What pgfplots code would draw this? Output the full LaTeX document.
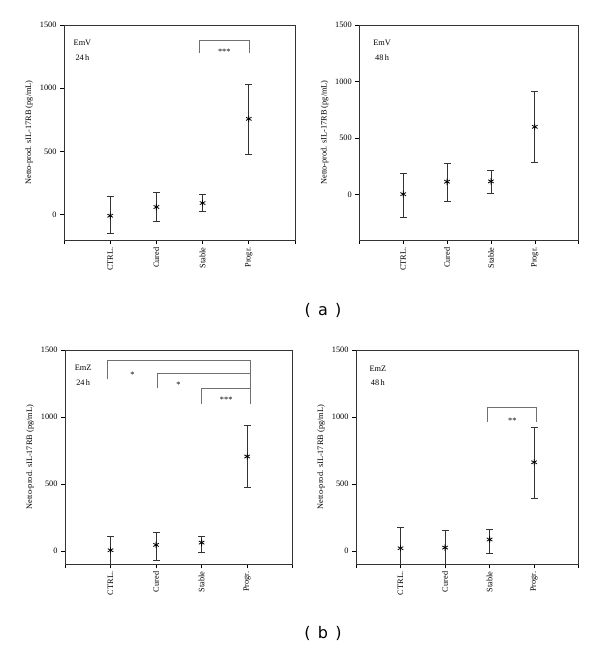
\documentclass[border=0pt]{standalone}
\usepackage{pgfplots}
\pgfplotsset{compat=1.18}
\usepackage{fontspec}
\setmainfont{Liberation Serif}
\newfontfamily\labfont{DejaVu Sans}
\definecolor{brgray}{HTML}{707070}
\definecolor{ebgray}{HTML}{333333}
\tikzset{
  bracket/.style={draw=brgray, line width=0.8pt},
  txt/.style={font=\fontsize{8.3}{9}\selectfont, inner sep=0pt},
}
\pgfplotsset{
  panel/.style={
    scale only axis,
    clip mode=individual,
    anchor=south west,
    xmin=0, xmax=5,
    ymax=1500,
    axis line style={draw=black!80, line width=0.7pt},
    xtick pos=left, ytick pos=left,
    xtick={0,1,2,3,4,5},
    xticklabels={,CTRL.,Cured,Stable,Progr.,},
    ytick={0,500,1000,1500},
    tick align=outside,
    major tick length=4pt,
    tick style={black, line width=0.6pt},
    /pgf/number format/assume math mode=true,
    /pgf/number format/1000 sep={},
    tick label style={font=\fontsize{8.3}{9}\selectfont},
    xticklabel style={rotate=90, anchor=east},
    ylabel={Netto-prod. sIL-17RB (pg/mL)},
    ylabel style={font=\fontsize{8.3}{9}\selectfont},
  },
  pt/.style={
    only marks, mark=asterisk, mark size=3.2pt, color=black, line width=0.8pt,
    /pgfplots/error bars/y dir=both,
    /pgfplots/error bars/y explicit,
    /pgfplots/error bars/error bar style={ebgray, line width=0.7pt},
    /pgfplots/error bars/error mark options={rotate=90, mark size=3.5pt, ebgray, line width=0.7pt},
  },
}
\begin{document}
\begin{tikzpicture}
\path[use as bounding box] (0,0) rectangle (600pt,649pt);

% (a) left: EmV 24 h
\begin{axis}[panel, name=p1, at={(64pt,409pt)}, width=231pt, height=215pt, ymin=-200]
\addplot[pt] table[x=x, y=y, y error plus=ep, y error minus=em] {
x y ep em
1 -8 153 140
2 61 118 114
3 92 71 63
4 758 271 279
};
\draw[bracket] (axis cs:2.93,1277) |- (axis cs:4.01,1377) -- (axis cs:4.01,1277);
\node[txt] at (axis cs:3.47,1290) {***};
\node[txt] at (axis cs:0.4,1356) {EmV};
\node[txt] at (axis cs:0.4,1246) {24\,h};
\end{axis}

% (a) right: EmV 48 h
\begin{axis}[panel, name=p2, at={(359.3pt,409pt)}, width=219.4pt, height=215pt, ymin=-400]
\addplot[pt] table[x=x, y=y, y error plus=ep, y error minus=em] {
x y ep em
1 5 186 202
2 115 165 177
3 118 100 103
4 600 315 312
};
\node[txt] at (axis cs:0.52,1338) {EmV};
\node[txt] at (axis cs:0.52,1215) {48\,h};
\end{axis}

% (b) left: EmZ 24 h
\begin{axis}[panel, name=p3, at={(65pt,84.7pt)}, width=227.7pt, height=214.3pt, ymin=-100]
\addplot[pt] table[x=x, y=y, y error plus=ep, y error minus=em] {
x y ep em
1 5 105 130
2 45 90 115
3 62 45 72
4 705 230 230
};
\draw[bracket] (axis cs:0.93,1280) |- (axis cs:4.08,1422) -- (axis cs:4.08,1100);
\draw[bracket] (axis cs:2.03,1217) |- (axis cs:4.08,1325);
\draw[bracket] (axis cs:2.99,1100) |- (axis cs:4.08,1212);
\node[txt] at (axis cs:1.48,1312) {*};
\node[txt] at (axis cs:2.49,1240) {*};
\node[txt] at (axis cs:3.54,1125) {***};
\node[txt] at (axis cs:0.4,1367) {EmZ};
\node[txt] at (axis cs:0.4,1260) {24\,h};
\end{axis}

% (b) right: EmZ 48 h
\begin{axis}[panel, name=p4, at={(356pt,84.7pt)}, width=222.7pt, height=214.3pt, ymin=-100]
\addplot[pt] table[x=x, y=y, y error plus=ep, y error minus=em] {
x y ep em
1 20 158 130
2 25 130 130
3 85 75 100
4 662 263 266
};
\draw[bracket] (axis cs:2.96,962) |- (axis cs:4.05,1070) -- (axis cs:4.05,962);
\node[txt] at (axis cs:3.51,975) {**};
\node[txt] at (axis cs:0.49,1363) {EmZ};
\node[txt] at (axis cs:0.49,1258) {48\,h};
\end{axis}

\node[font=\labfont\fontsize{16}{18}\selectfont] at (323pt,339pt) {(\hspace{0.45em}a\hspace{0.45em})};
\node[font=\labfont\fontsize{16}{18}\selectfont] at (323pt,16pt) {(\hspace{0.45em}b\hspace{0.45em})};
\end{tikzpicture}
\end{document}
